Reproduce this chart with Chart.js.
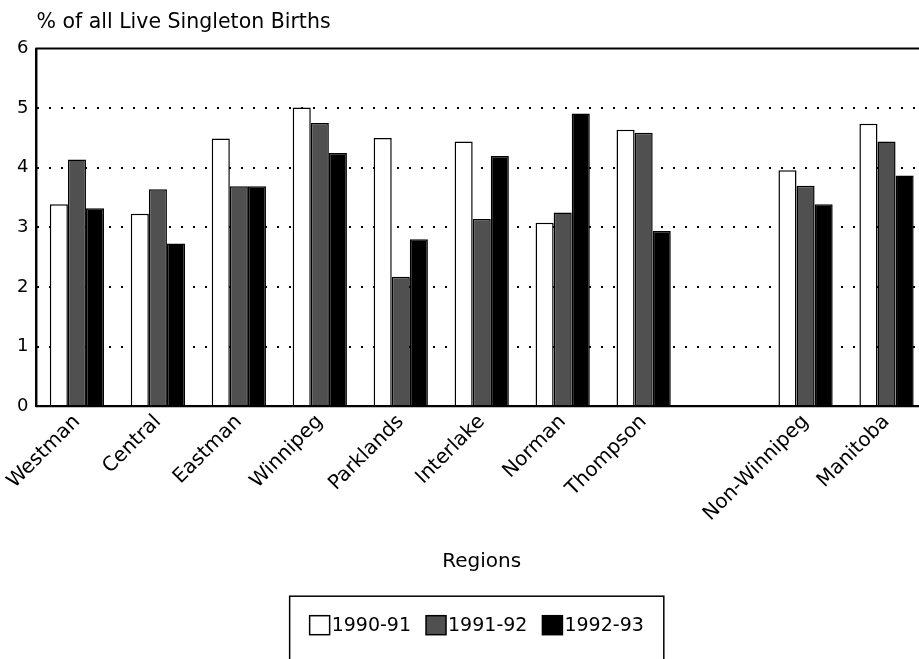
<!DOCTYPE html>
<html>
<head>
<meta charset="utf-8">
<script src="https://cdn.jsdelivr.net/npm/chart.js@4"></script>
<style>
  html, body { margin: 0; padding: 0; background: #fff; overflow: hidden; }
  #wrap { width: 935px; height: 659px; }
</style>
</head>
<body>
<div id="wrap"><canvas id="chart"></canvas></div>
<script>
const regions = ['Westman', 'Central', 'Eastman', 'Winnipeg', 'Parklands', 'Interlake', 'Norman', 'Thompson', '', 'Non-Winnipeg', 'Manitoba'];
const years = ['1990-91', '1991-92', '1992-93'];
const values9091 = [3.39, 3.23, 4.49, 5.01, 4.50, 4.44, 3.08, 4.64, null, 3.96, 4.74];
const values9192 = [4.14, 3.64, 3.69, 4.75, 2.17, 3.14, 3.25, 4.59, null, 3.70, 4.44];
const values9293 = [3.32, 2.73, 3.69, 4.25, 2.80, 4.20, 4.91, 2.94, null, 3.39, 3.87];
const yTicks = [0, 1, 2, 3, 4, 5, 6];

const FONT = 'DejaVu Sans';

// legend drawn by hand: tight box/text gap and a frame open at the bottom like the scan
const boxLegend = {
  id: 'boxLegend',
  afterDraw(chart) {
    const { ctx, chartArea } = chart;
    const sets = chart.data.datasets;
    const box = 20;
    const gap = 2;
    const space = 15;
    ctx.save();
    ctx.font = `19px "${FONT}"`;
    const widths = sets.map(ds => ctx.measureText(ds.label).width);
    const total = widths.reduce((a, w) => a + box + gap + w, 0) + space * (sets.length - 1);
    const cy = chartArea.bottom + 219;
    let x = (chartArea.left + chartArea.right) / 2 - 5 - total / 2;
    const startX = x;
    ctx.textBaseline = 'middle';
    sets.forEach((ds, i) => {
      ctx.fillStyle = ds.backgroundColor;
      ctx.fillRect(x, cy - 9.5, box, 19);
      ctx.strokeStyle = '#000';
      ctx.lineWidth = 1.5;
      ctx.strokeRect(x, cy - 9.5, box, 19);
      ctx.fillStyle = '#000';
      ctx.fillText(ds.label, x + box + gap, cy + 1);
      x += box + gap + widths[i] + space;
    });
    const endX = x - space;
    ctx.strokeStyle = '#000';
    ctx.lineWidth = 1.5;
    ctx.strokeRect(startX - 20, cy - 29, endX - startX + 40, 80);
    ctx.restore();
  },
};

// solid frame lines: top of the plot, plus the two axes (grid dash would hit them)
const frameLines = {
  id: 'frameLines',
  afterDatasetsDraw(chart) {
    const { ctx, chartArea } = chart;
    ctx.save();
    ctx.strokeStyle = '#000';
    ctx.lineWidth = 2;
    ctx.setLineDash([]);
    ctx.beginPath();
    ctx.moveTo(chartArea.right + 2, chartArea.top);
    ctx.lineTo(chartArea.left, chartArea.top);
    ctx.lineTo(chartArea.left, chartArea.bottom);
    ctx.lineTo(chartArea.right + 2, chartArea.bottom);
    ctx.stroke();
    ctx.restore();
  },
};

const ctx = document.getElementById('chart').getContext('2d');
new Chart(ctx, {
  type: 'bar',
  data: {
    labels: regions,
    datasets: [
      { label: years[0], data: values9091, backgroundColor: '#ffffff' },
      { label: years[1], data: values9192, backgroundColor: '#505050' },
      { label: years[2], data: values9293, backgroundColor: '#000000' },
    ].map(ds => ({ ...ds, borderColor: '#000', borderWidth: 1.5, barPercentage: 1.0, categoryPercentage: 0.67 })),
  },
  options: {
    responsive: true,
    maintainAspectRatio: false,
    animation: false,
    layout: { padding: { left: 9, right: 8, top: 4, bottom: 59 } },
    plugins: {
      tooltip: { enabled: false },
      legend: { display: false },
      title: {
        display: true,
        text: '% of all Live Singleton Births',
        align: 'start',
        fullSize: false,
        color: '#000',
        font: { family: FONT, size: 20.5, weight: 'normal' },
        padding: { top: 6, bottom: 14 },
      },
    },
    scales: {
      x: {
        grid: { display: false, drawTicks: false },
        border: { color: '#000', width: 2 },
        ticks: {
          color: '#000',
          font: { family: FONT, size: 20 },
          minRotation: 45,
          maxRotation: 45,
          autoSkip: false,
          padding: 4,
        },
        title: {
          display: true,
          text: 'Regions',
          color: '#000',
          font: { family: FONT, size: 20 },
          padding: { top: 20, bottom: 26 },
        },
      },
      y: {
        min: 0,
        max: 6,
        afterBuildTicks(axis) { axis.ticks = yTicks.map(v => ({ value: v })); },
        grid: {
          drawTicks: false,
          color: ctx => (ctx.tick && ctx.tick.value > 0 && ctx.tick.value < 6 ? '#000' : 'rgba(0,0,0,0)'),
          lineWidth: 2,
        },
        border: { color: '#000', width: 2, dash: [2, 10] },
        ticks: {
          color: '#000',
          font: { family: FONT, size: 18 },
          padding: 8,
        },
      },
    },
  },
  plugins: [boxLegend, frameLines],
});
</script>
</body>
</html>
